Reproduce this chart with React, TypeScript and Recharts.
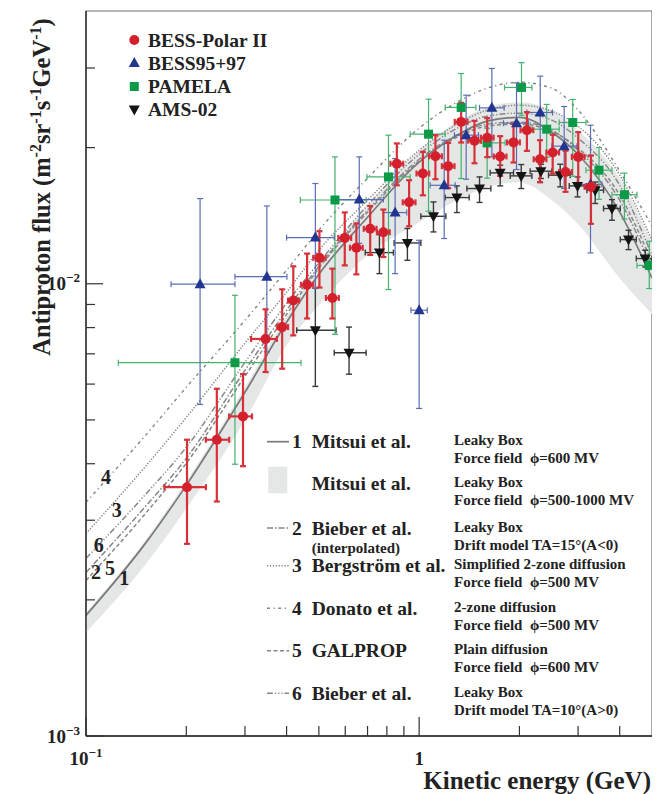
import React from 'react';
import {
  ComposedChart,
  XAxis,
  YAxis,
  Line,
  Area,
  Scatter,
  ErrorBar,
  ReferenceArea,
} from 'recharts';

// Each measurement row: [E, E low edge, E high edge, flux, flux low, flux high]
// E in GeV, flux in m^-2 sr^-1 s^-1 GeV^-1
type Row = [number, number, number, number, number, number];

const bessPolar2: Row[] = [
  [0.201, 0.172, 0.229, 0.00355, 0.00266, 0.00452],
  [0.247, 0.229, 0.269, 0.00452, 0.0033, 0.00586],
  [0.296, 0.269, 0.315, 0.00509, 0.00395, 0.00631],
  [0.346, 0.313, 0.374, 0.00755, 0.00638, 0.00878],
  [0.388, 0.375, 0.404, 0.00802, 0.00649, 0.00972],
  [0.419, 0.404, 0.436, 0.00918, 0.00769, 0.01093],
  [0.461, 0.442, 0.481, 0.00995, 0.00838, 0.01166],
  [0.502, 0.481, 0.524, 0.01141, 0.00981, 0.01307],
  [0.549, 0.525, 0.574, 0.0093, 0.00838, 0.0108],
  [0.598, 0.572, 0.625, 0.01263, 0.01098, 0.01438],
  [0.648, 0.62, 0.677, 0.01201, 0.01049, 0.01359],
  [0.713, 0.682, 0.745, 0.01323, 0.01158, 0.01486],
  [0.781, 0.747, 0.816, 0.013, 0.01146, 0.01459],
  [0.857, 0.82, 0.896, 0.01843, 0.01651, 0.02043],
  [0.933, 0.893, 0.975, 0.01514, 0.0134, 0.01694],
  [1.026, 0.982, 1.072, 0.01753, 0.01569, 0.01957],
  [1.119, 1.071, 1.17, 0.01914, 0.01703, 0.02131],
  [1.222, 1.17, 1.277, 0.0182, 0.01627, 0.02049],
  [1.337, 1.279, 1.397, 0.0228, 0.02053, 0.02512],
  [1.466, 1.403, 1.532, 0.02072, 0.01847, 0.02292],
  [1.601, 1.532, 1.673, 0.02104, 0.01905, 0.02324],
  [1.751, 1.675, 1.829, 0.01912, 0.01732, 0.0212],
  [1.92, 1.837, 2.006, 0.02054, 0.01854, 0.0226],
  [2.106, 2.015, 2.201, 0.02185, 0.01967, 0.02396],
  [2.306, 2.207, 2.41, 0.01885, 0.01678, 0.02077],
  [2.517, 2.409, 2.63, 0.01951, 0.01753, 0.02136],
  [2.75, 2.632, 2.874, 0.01767, 0.01597, 0.01969],
  [3.003, 2.873, 3.138, 0.01908, 0.0166, 0.02164],
  [3.279, 3.138, 3.426, 0.01638, 0.01357, 0.01921],
];

const bess9597: Row[] = [
  [0.22, 0.18, 0.28, 0.00998, 0.00541, 0.01543],
  [0.349, 0.28, 0.401, 0.01037, 0.00707, 0.01486],
  [0.488, 0.4, 0.556, 0.01265, 0.00977, 0.01666],
  [0.661, 0.556, 0.781, 0.01535, 0.01229, 0.01908],
  [0.847, 0.781, 0.918, 0.01437, 0.01053, 0.01892],
  [1.0, 0.945, 1.058, 0.00874, 0.0053, 0.01248],
  [1.189, 1.079, 1.283, 0.01651, 0.01259, 0.02077],
  [1.384, 1.276, 1.507, 0.02131, 0.01703, 0.02612],
  [1.653, 1.518, 1.8, 0.02449, 0.01908, 0.02993],
  [1.96, 1.791, 2.129, 0.02265, 0.01789, 0.02781],
  [2.309, 2.106, 2.514, 0.02392, 0.01673, 0.02878],
  [2.725, 2.503, 2.976, 0.02015, 0.01624, 0.02466],
  [3.269, 2.976, 3.537, 0.01658, 0.0117, 0.02242],
];

const pamela: Row[] = [
  [0.28, 0.125, 0.442, 0.00669, 0.00399, 0.00943],
  [0.559, 0.44, 0.693, 0.01532, 0.00773, 0.01908],
  [0.809, 0.697, 0.94, 0.01723, 0.00971, 0.02131],
  [1.067, 0.94, 1.197, 0.02142, 0.01447, 0.02559],
  [1.337, 1.197, 1.48, 0.02454, 0.01709, 0.02917],
  [1.6, 1.48, 1.812, 0.02049, 0.01712, 0.02208],
  [2.029, 1.804, 2.18, 0.02717, 0.02359, 0.03083],
  [2.415, 2.18, 2.633, 0.02197, 0.01905, 0.02492],
  [2.891, 2.633, 3.168, 0.02273, 0.01729, 0.02556],
  [3.467, 3.168, 3.791, 0.01783, 0.01537, 0.02001],
  [4.133, 3.791, 4.507, 0.01574, 0.0139, 0.01757],
  [4.906, 4.507, 5.0, 0.01098, 0.00976, 0.01242],
];

const ams02: Row[] = [
  [0.488, 0.429, 0.563, 0.00789, 0.00593, 0.00977],
  [0.616, 0.556, 0.693, 0.00704, 0.00631, 0.00802],
  [0.76, 0.689, 0.837, 0.01172, 0.01053, 0.01285],
  [0.922, 0.841, 1.012, 0.01231, 0.01127, 0.01325],
  [1.104, 1.012, 1.203, 0.0141, 0.01302, 0.01517],
  [1.298, 1.197, 1.413, 0.01551, 0.01437, 0.01646],
  [1.518, 1.391, 1.642, 0.01624, 0.01513, 0.01723],
  [1.751, 1.634, 1.92, 0.01759, 0.01646, 0.01829],
  [2.025, 1.877, 2.18, 0.01732, 0.01624, 0.01835],
  [2.32, 2.154, 2.503, 0.01774, 0.01709, 0.01838],
  [2.651, 2.445, 2.841, 0.01738, 0.01638, 0.01838],
  [2.988, 2.822, 3.173, 0.01646, 0.01556, 0.01723],
  [3.377, 3.188, 3.577, 0.0161, 0.01505, 0.01679],
  [3.791, 3.577, 4.015, 0.01467, 0.01382, 0.01535],
  [4.251, 4.015, 4.485, 0.01252, 0.0119, 0.01313],
  [4.772, 4.485, 5.0, 0.01137, 0.01089, 0.01186],
];

// Model predictions sampled at these energies (GeV)
const modelEnergies = [0.1, 0.15, 0.2, 0.3, 0.4, 0.5, 0.7, 1.0, 1.3, 1.6, 2.0, 2.5, 3.0, 4.0, 5.0];

const mitsui600 = [0.001848, 0.002653, 0.003583, 0.005754, 0.008219, 0.010495, 0.014032, 0.018571, 0.02131, 0.022885, 0.023338, 0.021637, 0.019339, 0.014397, 0.010285];
const mitsui500 = [0.001876, 0.002694, 0.003657, 0.005902, 0.008474, 0.010931, 0.014918, 0.019741, 0.022777, 0.024578, 0.025209, 0.024207, 0.021853, 0.017119, 0.012354];
const mitsui1000 = [0.001694, 0.002382, 0.003186, 0.004989, 0.007311, 0.00896, 0.011561, 0.013678, 0.015301, 0.016352, 0.016777, 0.015313, 0.013538, 0.010285, 0.00856];
const bieber15 = [0.002299, 0.003203, 0.004111, 0.006435, 0.008737, 0.010931, 0.014545, 0.018853, 0.021308, 0.022542, 0.022777, 0.021853, 0.019741, 0.015301, 0.010822];
const bergstrom = [0.002805, 0.003926, 0.005065, 0.007387, 0.009577, 0.011862, 0.015301, 0.019741, 0.022542, 0.024207, 0.02483, 0.024079, 0.02231, 0.017378, 0.012474];
const donato = [0.003286, 0.004598, 0.005902, 0.008303, 0.010713, 0.013139, 0.017119, 0.02208, 0.025209, 0.027067, 0.027908, 0.027067, 0.024207, 0.017742, 0.013404];
const galprop = [0.002208, 0.00309, 0.004009, 0.006244, 0.00856, 0.010822, 0.014397, 0.018664, 0.021091, 0.02231, 0.022542, 0.021747, 0.019944, 0.015704, 0.01116];
const bieber10 = [0.00247, 0.003405, 0.004348, 0.006703, 0.009055, 0.011127, 0.014918, 0.019339, 0.02208, 0.023476, 0.023836, 0.023007, 0.020991, 0.016515, 0.011563];

const xTicks = [0.1, 0.2, 0.3, 0.4, 0.5, 0.6, 0.7, 0.8, 0.9, 1, 2, 3, 4];
const yTicks = [0.001, 0.002, 0.003, 0.004, 0.005, 0.006, 0.007, 0.008, 0.009, 0.01, 0.02, 0.03];

const RED = '#d41f2c';
const RED_BAR = '#d63139';
const BLUE = '#22368f';
const BLUE_BAR = '#5a6db4';
const GREEN = '#0c9a49';
const GREEN_BAR = '#43b26e';
const BLACK = '#141414';
const BLACK_BAR = '#3a3a3a';
const CURVE = '#878787';
const CURVE_W = 1.5;
const SOLID = '#7a7a7a';
const BAND = '#e5e6e6';
const FONT = "'Liberation Serif', 'Times New Roman', serif";
const GAP = '\u00a0\u00a0';

const DASH = {
  bieber15: '6 2 1.5 2',
  bergstrom: '1.3 1.6',
  donato: '3 3.5 1.2 3.5',
  galprop: '4 2.5',
  bieber10: '6 2 1.2 2 1.2 2 1.2 2',
};

const toPoints = (rows: Row[]) =>
  rows.map(([e, el, eh, f, fl, fh]) => ({ e, f, ex: [e - el, eh - e], ey: [f - fl, fh - f] }));
const toCurve = (vals: number[]) => modelEnergies.map((e, i) => ({ e, f: vals[i] }));
const band = modelEnergies.map((e, i) => ({ e, range: [mitsui1000[i], mitsui500[i]] }));

const sup = (v: number) => Math.round(Math.log10(v));
const isDecade = (v: number) => Math.abs(Math.log10(v) - Math.round(Math.log10(v))) < 1e-6;

function DotShape(p: any) {
  return <circle cx={p.cx} cy={p.cy} r={5} fill={RED} />;
}
function TriUpShape(p: any) {
  const { cx, cy } = p;
  return <polygon points={`${cx},${cy - 6} ${cx - 5.5},${cy + 4} ${cx + 5.5},${cy + 4}`} fill={BLUE} />;
}
function SquareShape(p: any) {
  return <rect x={p.cx - 4.5} y={p.cy - 4.5} width={9} height={9} fill={GREEN} />;
}
function TriDownShape(p: any) {
  const { cx, cy } = p;
  return <polygon points={`${cx},${cy + 6} ${cx - 5.5},${cy - 4} ${cx + 5.5},${cy - 4}`} fill={BLACK} />;
}

function YTick(props: any) {
  const { x, y, payload } = props;
  const v = payload.value as number;
  const major = isDecade(v);
  return (
    <g>
      <line x1={x} x2={x + (major ? 17 : 9)} y1={y} y2={y} stroke="#333" strokeWidth={1.2} />
      {major && (
        <text x={x - 6} y={y + 6.5} textAnchor="end" fontFamily={FONT} fontWeight="bold" fontSize={19} fill="#222">
          10
          <tspan dy={-8} fontSize={13}>{'\u2212' + Math.abs(sup(v))}</tspan>
        </text>
      )}
    </g>
  );
}

function XTick(props: any) {
  const { x, y, payload } = props;
  const v = payload.value as number;
  const major = isDecade(v);
  return (
    <g>
      <line x1={x} x2={x} y1={y} y2={y - (major ? 19 : 10)} stroke="#333" strokeWidth={1.2} />
      {major && sup(v) === 0 && (
        <text x={x} y={y + 29} textAnchor="middle" fontFamily={FONT} fontWeight="bold" fontSize={19} fill="#222">1</text>
      )}
      {major && sup(v) !== 0 && (
        <text x={x} y={y + 29} textAnchor="middle" fontFamily={FONT} fontWeight="bold" fontSize={19} fill="#222">
          10
          <tspan dy={-8} fontSize={13}>{'\u2212' + Math.abs(sup(v))}</tspan>
        </text>
      )}
    </g>
  );
}

const dataLegend = [
  { label: 'BESS-Polar II', Shape: DotShape, y: 40 },
  { label: 'BESS95+97', Shape: TriUpShape, y: 63 },
  { label: 'PAMELA', Shape: SquareShape, y: 86.5 },
  { label: 'AMS-02', Shape: TriDownShape, y: 109.5 },
];

const modelLegend = [
  { num: '1', name: 'Mitsui et al.', dash: undefined as string | undefined, box: false, y: 441.7, lines: ['Leaky Box', `Force field${GAP}\u03d5=600 MV`] },
  { num: '', name: 'Mitsui et al.', dash: undefined, box: true, y: 483.3, lines: ['Leaky Box', `Force field${GAP}\u03d5=500-1000 MV`] },
  { num: '2', name: 'Bieber et al.', dash: DASH.bieber15, box: false, y: 528, lines: ['Leaky Box', 'Drift model TA=15\u00b0(A<0)'], note: '(interpolated)' },
  { num: '3', name: 'Bergstr\u00f6m et al.', dash: DASH.bergstrom, box: false, y: 565.7, lines: ['Simplified 2-zone diffusion', `Force field${GAP}\u03d5=500 MV`] },
  { num: '4', name: 'Donato et al.', dash: DASH.donato, box: false, y: 608.3, lines: ['2-zone diffusion', `Force field${GAP}\u03d5=500 MV`] },
  { num: '5', name: 'GALPROP', dash: DASH.galprop, box: false, y: 650.7, lines: ['Plain diffusion', `Force field${GAP}\u03d5=600 MV`] },
  { num: '6', name: 'Bieber et al.', dash: DASH.bieber10, box: false, y: 693.3, lines: ['Leaky Box', 'Drift model TA=10\u00b0(A>0)'] },
];

const curveTags = [
  { t: '4', x: 106, y: 483.5 },
  { t: '3', x: 116.7, y: 517 },
  { t: '6', x: 98.7, y: 552 },
  { t: '2', x: 96, y: 578.5 },
  { t: '5', x: 110, y: 575 },
  { t: '1', x: 124.3, y: 585 },
];

export default function App() {
  return (
    <div style={{ position: 'relative', width: 652, height: 786 }}>
      <ComposedChart width={652} height={786} margin={{ top: 3, right: 8, left: 0, bottom: 0 }}>
        <XAxis
          dataKey="e"
          type="number"
          scale="log"
          domain={[0.1, 5]}
          allowDataOverflow
          ticks={xTicks}
          interval={0}
          tickSize={0}
          tickMargin={0}
          tickLine={false}
          tick={XTick}
          height={58}
          axisLine={{ stroke: '#222', strokeWidth: 1.5 }}
        />
        <YAxis
          type="number"
          scale="log"
          domain={[0.001, 0.0401]}
          allowDataOverflow
          ticks={yTicks}
          interval={0}
          tickSize={0}
          tickMargin={0}
          tickLine={false}
          tick={YTick}
          width={78}
          axisLine={{ stroke: '#333', strokeWidth: 1.5 }}
        />
        <ReferenceArea x1={0.1} x2={5} y1={0.001} y2={0.0401} fill="none" stroke="#707070" strokeWidth={1.2} />
        <Area data={band} dataKey="range" type="monotone" fill={BAND} fillOpacity={1} stroke="none" isAnimationActive={false} />
        <Line data={toCurve(donato)} dataKey="f" type="monotone" dot={false} stroke={CURVE} strokeWidth={CURVE_W} strokeDasharray={DASH.donato} isAnimationActive={false} />
        <Line data={toCurve(bergstrom)} dataKey="f" type="monotone" dot={false} stroke={CURVE} strokeWidth={CURVE_W} strokeDasharray={DASH.bergstrom} isAnimationActive={false} />
        <Line data={toCurve(bieber10)} dataKey="f" type="monotone" dot={false} stroke={CURVE} strokeWidth={CURVE_W} strokeDasharray={DASH.bieber10} isAnimationActive={false} />
        <Line data={toCurve(bieber15)} dataKey="f" type="monotone" dot={false} stroke={CURVE} strokeWidth={CURVE_W} strokeDasharray={DASH.bieber15} isAnimationActive={false} />
        <Line data={toCurve(galprop)} dataKey="f" type="monotone" dot={false} stroke={CURVE} strokeWidth={CURVE_W} strokeDasharray={DASH.galprop} isAnimationActive={false} />
        <Line data={toCurve(mitsui600)} dataKey="f" type="monotone" dot={false} stroke={SOLID} strokeWidth={1.7} isAnimationActive={false} />
        <Scatter data={toPoints(ams02)} dataKey="f" shape={TriDownShape} isAnimationActive={false}>
          <ErrorBar dataKey="ey" direction="y" width={3} stroke={BLACK_BAR} strokeWidth={1.4} isAnimationActive={false} />
          <ErrorBar dataKey="ex" direction="x" width={3} stroke={BLACK_BAR} strokeWidth={1.4} isAnimationActive={false} />
        </Scatter>
        <Scatter data={toPoints(pamela)} dataKey="f" shape={SquareShape} isAnimationActive={false}>
          <ErrorBar dataKey="ey" direction="y" width={3} stroke={GREEN_BAR} strokeWidth={1.2} isAnimationActive={false} />
          <ErrorBar dataKey="ex" direction="x" width={3} stroke={GREEN_BAR} strokeWidth={1.2} isAnimationActive={false} />
        </Scatter>
        <Scatter data={toPoints(bess9597)} dataKey="f" shape={TriUpShape} isAnimationActive={false}>
          <ErrorBar dataKey="ey" direction="y" width={3} stroke={BLUE_BAR} strokeWidth={1.2} isAnimationActive={false} />
          <ErrorBar dataKey="ex" direction="x" width={3} stroke={BLUE_BAR} strokeWidth={1.2} isAnimationActive={false} />
        </Scatter>
        <Scatter data={toPoints(bessPolar2)} dataKey="f" shape={DotShape} isAnimationActive={false}>
          <ErrorBar dataKey="ey" direction="y" width={3} stroke={RED_BAR} strokeWidth={2.2} isAnimationActive={false} />
          <ErrorBar dataKey="ex" direction="x" width={3} stroke={RED_BAR} strokeWidth={2.2} isAnimationActive={false} />
        </Scatter>
      </ComposedChart>

      <svg
        width={652}
        height={786}
        viewBox="8 8 652 786"
        style={{ position: 'absolute', left: 0, top: 0, pointerEvents: 'none' }}
        fontFamily={FONT}
        fontWeight="bold"
        fill="#222"
      >
        {/* axis titles */}
        <text transform="rotate(-90 50 187)" x={50} y={187} textAnchor="middle" fontSize={24.5}>
          Antiproton flux (m
          <tspan dy={-9} fontSize={16}>-2</tspan>
          <tspan dy={9}>sr</tspan>
          <tspan dy={-9} fontSize={16}>-1</tspan>
          <tspan dy={9}>s</tspan>
          <tspan dy={-9} fontSize={16}>-1</tspan>
          <tspan dy={9}>GeV</tspan>
          <tspan dy={-9} fontSize={16}>-1</tspan>
          <tspan dy={9}>)</tspan>
        </text>
        <text x={651} y={789} textAnchor="end" fontSize={25}>Kinetic energy (GeV)</text>

        {/* experiment legend */}
        {dataLegend.map(({ label, Shape, y }) => (
          <g key={label}>
            <Shape cx={134.3} cy={y} />
            <text x={148} y={y + 6.6} fontSize={19.5}>{label}</text>
          </g>
        ))}

        {/* curve tags at the low-energy end */}
        {curveTags.map((c) => (
          <text key={c.t} x={c.x} y={c.y} textAnchor="middle" fontSize={20}>{c.t}</text>
        ))}

        {/* model legend */}
        {modelLegend.map((m, i) => (
          <g key={i}>
            {m.box ? (
              <rect x={268.3} y={m.y - 16.6} width={19} height={26.6} fill={BAND} />
            ) : (
              <line x1={267} x2={289} y1={m.y} y2={m.y} stroke={i === 0 ? SOLID : CURVE} strokeWidth={i === 0 ? 1.7 : CURVE_W} strokeDasharray={m.dash} />
            )}
            {m.num && <text x={292} y={m.y + 6.6} fontSize={19.5}>{m.num}</text>}
            <text x={311.7} y={m.y + 6.6} fontSize={19.5}>{m.name}</text>
            {m.note && <text x={311.7} y={m.y + 25} fontSize={15}>{m.note}</text>}
            <text x={454} y={m.y + 3.5} fontSize={15}>{m.lines[0]}</text>
            <text x={454} y={m.y + 21.5} fontSize={15}>{m.lines[1]}</text>
          </g>
        ))}
      </svg>
    </div>
  );
}
